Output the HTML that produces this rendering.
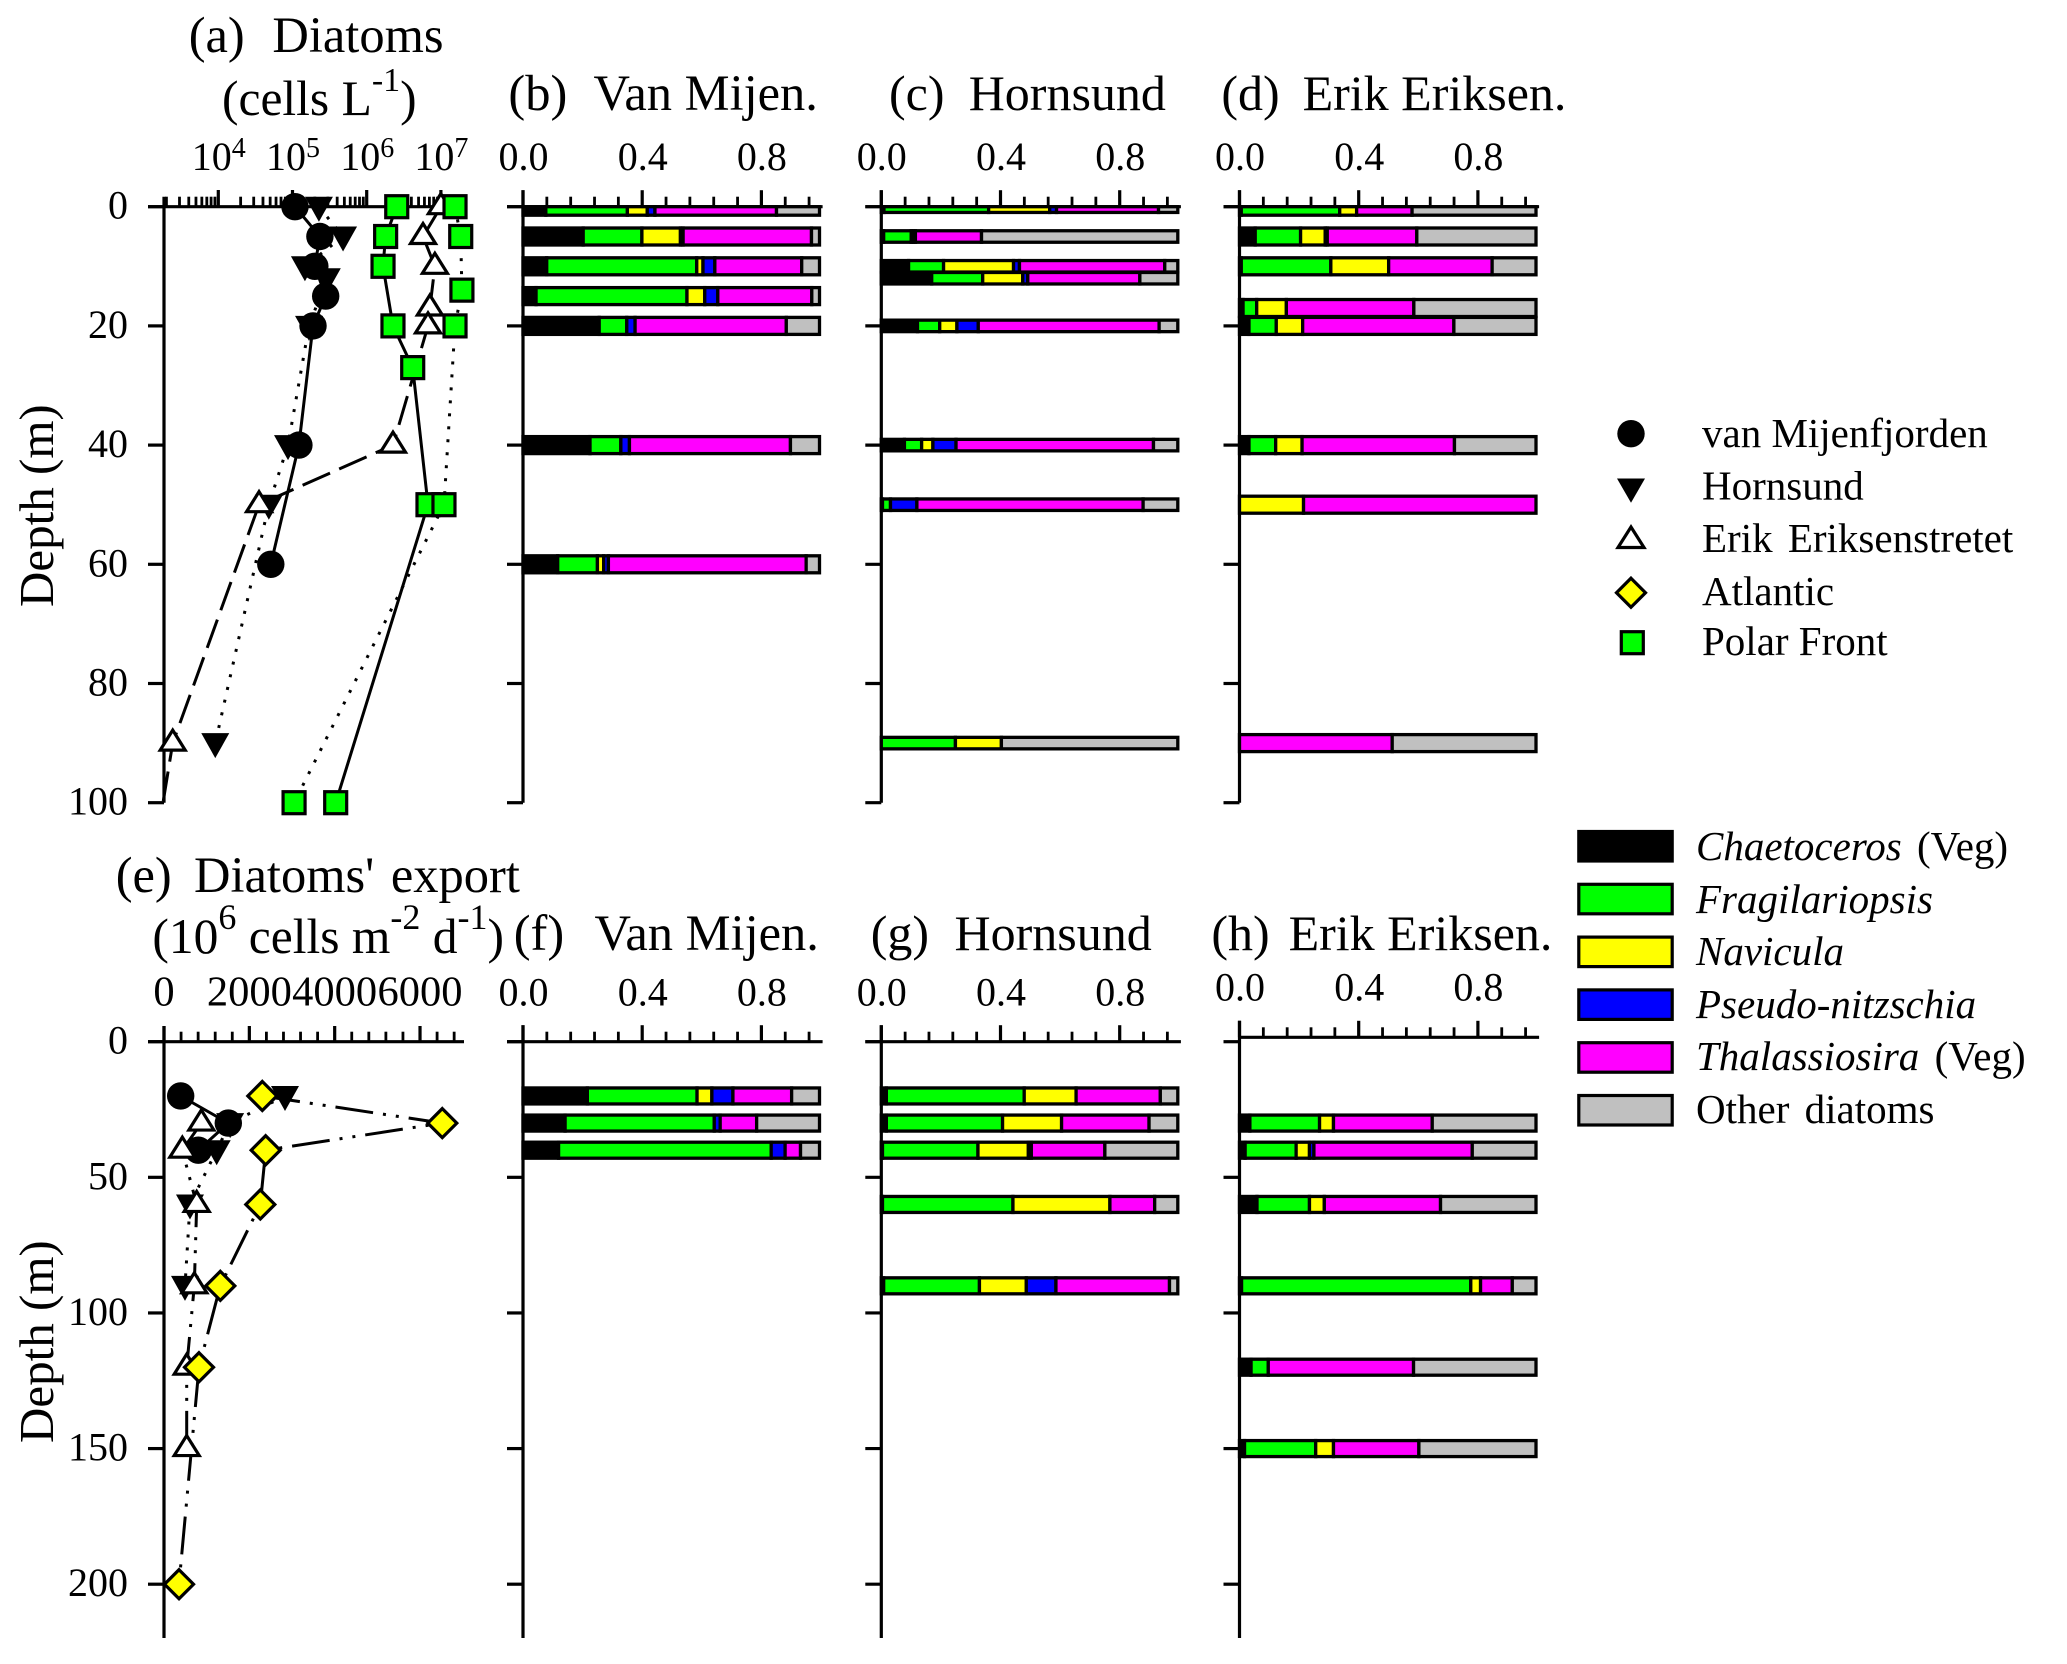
<!DOCTYPE html>
<html lang="en">
<head>
<meta charset="utf-8">
<title>Diatom depth profiles and export</title>
<style>
  html, body { margin: 0; padding: 0; background: #fff; }
  svg { display: block; }
  text { font-family: "Liberation Serif", serif; fill: #000; white-space: pre; }
  .title { font-size: 49.5px; }
  .title-l { font-size: 50.5px; }
  .title-m { font-size: 50px; }
  .axis-title { font-size: 49px; }
  .tick { font-size: 40px; }
  .tick-wide { font-size: 42.5px; }
  .legend { font-size: 41px; word-spacing: 5px; }
  .legend-tight { font-size: 41px; }
</style>
</head>
<body>
<svg id="chart" xmlns="http://www.w3.org/2000/svg" width="2067" height="1664" viewBox="0 0 2067 1664">
  <rect width="2067" height="1664" fill="#fff"/>

  <text class="title-l" y="52"><tspan x="188.7">(a)</tspan><tspan x="272.4">Diatoms</tspan></text>
  <text class="title" x="222" y="115">(cells L<tspan dy="-24" font-size="34">-1</tspan><tspan dy="24">)</tspan></text>
  <text class="title-l" y="110"><tspan x="508.4">(b)</tspan><tspan x="593.5">Van Mijen.</tspan></text>
  <text class="title-m" y="110"><tspan x="889">(c)</tspan><tspan x="968.7">Hornsund</tspan></text>
  <text class="title-m" y="110"><tspan x="1221.4">(d)</tspan><tspan x="1302.6">Erik Eriksen.</tspan></text>
  <text class="title-l" y="892"><tspan x="115.7">(e)</tspan><tspan x="194" word-spacing="4">Diatoms' export</tspan></text>
  <text class="title" x="152.4" y="953">(10<tspan dy="-24" font-size="36">6</tspan><tspan dy="24"> cells m</tspan><tspan dy="-24" font-size="36">-2</tspan><tspan dy="24"> d</tspan><tspan dy="-24" font-size="36">-1</tspan><tspan dy="24">)</tspan></text>
  <text class="title-l" y="950"><tspan x="513.7">(f)</tspan><tspan x="594.5">Van Mijen.</tspan></text>
  <text class="title-m" y="950"><tspan x="870.7">(g)</tspan><tspan x="954.5">Hornsund</tspan></text>
  <text class="title-m" y="950"><tspan x="1211.4">(h)</tspan><tspan x="1288.6">Erik Eriksen.</tspan></text>

  <text class="axis-title" transform="translate(53,607) rotate(-90)" x="0" y="0">Depth (m)</text>
  <text class="axis-title" transform="translate(53,1443) rotate(-90)" x="0" y="0">Depth (m)</text>

  <g>
    <circle cx="1631" cy="433.7" r="13.7" fill="#000"/>
    <path d="M1617,478.5 H1645 L1631,502.7 Z" fill="#000"/>
    <path d="M1631,527 L1644,547.5 H1618 Z" fill="#fff" stroke="#000" stroke-width="3.2"/>
    <path d="M1631,578.2 L1645.5,592.7 L1631,607.2 L1616.5,592.7 Z" fill="#ff0" stroke="#000" stroke-width="3.2"/>
    <rect x="1621.3" y="631.7" width="22" height="22" fill="#0f0" stroke="#000" stroke-width="3.2"/>
    <text class="legend-tight" x="1702" y="447">van Mijenfjorden</text>
    <text class="legend" x="1702" y="499.5">Hornsund</text>
    <text class="legend" x="1702" y="552">Erik Eriksenstretet</text>
    <text class="legend" x="1702" y="605">Atlantic</text>
    <text class="legend-tight" x="1702" y="655">Polar Front</text>
  </g>

  <g>
    <rect x="1578.8" y="831.5" width="93.4" height="29.5" fill="#000" stroke="#000" stroke-width="3.2"/>
    <rect x="1578.8" y="884.3" width="93.4" height="29.5" fill="#0f0" stroke="#000" stroke-width="3.2"/>
    <rect x="1578.8" y="937.1" width="93.4" height="29.5" fill="#ff0" stroke="#000" stroke-width="3.2"/>
    <rect x="1578.8" y="989.9" width="93.4" height="29.5" fill="#00f" stroke="#000" stroke-width="3.2"/>
    <rect x="1578.8" y="1042.7" width="93.4" height="29.5" fill="#f0f" stroke="#000" stroke-width="3.2"/>
    <rect x="1578.8" y="1095.5" width="93.4" height="29.5" fill="#c0c0c0" stroke="#000" stroke-width="3.2"/>
    <text class="legend" x="1696" y="860"><tspan font-style="italic">Chaetoceros</tspan> (Veg)</text>
    <text class="legend" x="1696" y="913"><tspan font-style="italic">Fragilariopsis</tspan></text>
    <text class="legend" x="1696" y="965"><tspan font-style="italic">Navicula</tspan></text>
    <text class="legend" x="1696" y="1018"><tspan font-style="italic">Pseudo-nitzschia</tspan></text>
    <text class="legend" x="1696" y="1070"><tspan font-style="italic">Thalassiosira</tspan> (Veg)</text>
    <text class="legend" x="1696" y="1123">Other diatoms</text>
  </g>
</svg>

<script>
// ---------- Panel (a): diatom abundance, cells per litre ----------
const cellsVanMijenDepths = [0, 5, 10, 15, 20, 40, 60];
const cellsVanMijenValues = [108000, 234000, 200000, 280000, 189000, 122000, 51000];
const cellsHornsundDepths = [0, 5, 10, 12, 20, 40, 50, 90];
const cellsHornsundValues = [227000, 480000, 147000, 290000, 167000, 87000, 48000, 9100];
const cellsErikDepths = [0, 5, 10, 17, 20, 40, 50, 90, 100];
const cellsErikValues = [10000000, 5740000, 8300000, 7100000, 6700000, 2260000, 35400, 2430, 1800];
const cellsPolarADepths = [0, 5, 10, 20, 27, 50, 100];
const cellsPolarAValues = [2540000, 1800000, 1660000, 2260000, 4170000, 6700000, 382000];
const cellsPolarBDepths = [0, 5, 14, 20, 50, 100];
const cellsPolarBValues = [15500000, 18500000, 19200000, 15500000, 11000000, 105000];
const logTickExponents = [4, 5, 6, 7];
const upperDepthTicks = [0, 20, 40, 60, 80, 100];

// ---------- Panel (e): diatom export ----------
const exportVanMijenDepths = [20, 30, 40];
const exportVanMijenValues = [391, 1507, 804];
const exportHornsundDepths = [20, 30, 40, 60, 90];
const exportHornsundValues = [2836, 1550, 1235, 609, 492];
const exportErikDepths = [30, 40, 60, 90, 120, 150];
const exportErikValues = [875, 430, 766, 711, 532, 532];
const exportAtlanticDepths = [20, 30, 40, 60, 90, 120, 200];
const exportAtlanticValues = [2304, 6522, 2383, 2257, 1320, 820, 352];
const exportTicks = ["0", "2000", "4000", "6000"];
const lowerDepthTicks = [0, 50, 100, 150, 200];

// ---------- Stacked fractions: Chaetoceros, Fragilariopsis, Navicula, Pseudo-nitzschia, Thalassiosira, Other ----------
const taxa = ["chaetoceros", "fragilariopsis", "navicula", "pseudo-nitzschia", "thalassiosira", "other-diatoms"];
const fractionTicks = ["0.0", "0.4", "0.8"];

const panelBDepths = [0, 5, 10, 15, 20, 40, 60];
const panelBFractions = [
  [.077, .275, .067, .026, .41, .145],
  [.203, .198, .13, .009, .433, .027],
  [.08, .506, .021, .04, .293, .06],
  [.044, .509, .06, .044, .317, .026],
  [.257, .093, 0, .028, .51, .112],
  [.226, .104, 0, .029, .543, .098],
  [.117, .134, .021, .016, .667, .045]
];
const panelCDepths = [0, 5, 10, 12, 20, 40, 50, 90];
const panelCFractions = [
  [.009, .353, .206, .023, .344, .065],
  [.008, .093, .007, .007, .223, .662],
  [.092, .118, .236, .02, .49, .044],
  [.17, .172, .135, .017, .378, .128],
  [.122, .075, .058, .072, .61, .063],
  [.078, .058, .038, .078, .666, .082],
  [.004, .027, 0, .089, .763, .117],
  [0, .25, .155, 0, 0, .595]
];
const panelDDepths = [0, 5, 10, 17, 20, 40, 50, 90];
const panelDFractions = [
  [.006, .332, .057, 0, .187, .418],
  [.053, .153, .083, .007, .302, .402],
  [.006, .302, .195, 0, .349, .148],
  [.012, .046, .1, 0, .43, .412],
  [.032, .092, .089, 0, .51, .277],
  [.032, .09, .089, 0, .514, .275],
  [0, 0, .216, 0, .784, 0],
  [0, 0, 0, 0, .515, .485]
];
const panelFDepths = [20, 30, 40];
const panelFFractions = [
  [.217, .37, .05, .071, .198, .094],
  [.142, .503, 0, .02, .123, .212],
  [.12, .717, 0, .047, .052, .064]
];
const panelGDepths = [20, 30, 40, 60, 90];
const panelGFractions = [
  [.017, .465, .175, 0, .284, .059],
  [.017, .392, .199, 0, .295, .097],
  [.004, .322, .17, .01, .248, .246],
  [.004, .44, .327, 0, .151, .078],
  [.008, .323, .158, .1, .383, .028]
];
const panelHDepths = [30, 40, 60, 90, 120, 150];
const panelHFractions = [
  [.035, .235, .047, 0, .333, .35],
  [.019, .172, .045, .015, .534, .215],
  [.059, .177, .05, 0, .392, .322],
  [.007, .773, .033, 0, .107, .08],
  [.039, .058, 0, 0, .49, .413],
  [.017, .24, .06, 0, .288, .395]
];

// ---------- Axis functions ----------
const svg = document.getElementById('chart');
const NS = 'http://www.w3.org/2000/svg';
const upperTop = 206.7, upperBottom = 802.7, lowerTop = 1041.7, lowerBottom = 1638;
const yUpper = d => upperTop + d * 5.96;
const yLower = d => lowerTop + d * 2.7125;
const logMin = 3.268;
const xLog = v => 218.3 + (Math.log10(v) - 4) * 74.2;
const xExport = v => 164 + v * 0.04267;
const taxonFills = ['#000', '#0f0', '#ff0', '#00f', '#f0f', '#c0c0c0'];

function make(tag, attrs, parent) {
  const el = document.createElementNS(NS, tag);
  for (const k in attrs) el.setAttribute(k, attrs[k]);
  (parent || svg).appendChild(el);
  return el;
}
function tickLine(x1, y1, x2, y2, w) {
  const el = make('line', { x1, y1, x2, y2, stroke: '#000', 'stroke-width': w });
  
  
  return el;
}
function axisLine(x1, y1, x2, y2) {
  const el = make('line', { x1, y1, x2, y2, stroke: '#000', 'stroke-width': 3.2 });
  
  
  return el;
}
function tickText(x, y, s, anchor, cls) {
  const el = make('text', { x, y, class: cls || 'tick', 'text-anchor': anchor });
  
  
  el.textContent = s;
  return el;
}
function depthAxis(x0, top, bottom, ticks, yFn) {
  axisLine(x0, top, x0, bottom);
  ticks.forEach(d => tickLine(x0 - 16, yFn(d), x0, yFn(d), 3.2));
}
function depthLabels(ticks, yFn) {
  ticks.forEach(d => tickText(128, yFn(d) + 12, String(d), 'end'));
}

function drawMarker(kind, x, y) {
  let el;
  if (kind === 'circle') {
    el = make('circle', { cx: x, cy: y, r: 13.7, fill: '#000' });
  } else if (kind === 'down') {
    el = make('path', { d: `M${x - 14},${y - 10} H${x + 14} L${x},${y + 15} Z`, fill: '#000' });
  } else if (kind === 'up') {
    el = make('path', { d: `M${x},${y - 13} L${x + 12.5},${y + 7} H${x - 12.5} Z`, fill: '#fff', stroke: '#000', 'stroke-width': 3.2 });
  } else if (kind === 'diamond') {
    el = make('path', { d: `M${x},${y - 14.5} L${x + 14.5},${y} L${x},${y + 14.5} L${x - 14.5},${y} Z`, fill: '#ff0', stroke: '#000', 'stroke-width': 3.2 });
  } else {
    el = make('rect', { x: x - 11, y: y - 11, width: 22, height: 22, fill: '#0f0', stroke: '#000', 'stroke-width': 3.2 });
  }
  
  
}
function drawLine(depths, values, xFn, yFn, dash) {
  const pts = depths.map((d, i) => xFn(values[i]).toFixed(1) + ',' + yFn(d).toFixed(1)).join(' ');
  const el = make('polyline', { points: pts, fill: 'none', stroke: '#000', 'stroke-width': 3 });
  if (dash) el.setAttribute('stroke-dasharray', dash);
  
  
}
function drawMarkers(depths, values, xFn, yFn, kind, minValue) {
  depths.forEach((d, i) => {
    if (values[i] >= minValue) drawMarker(kind, xFn(values[i]), yFn(d));
  });
}

// ---------- Panel (a) axes ----------
const logAxisMinX = 164;
for (let k = 3; k <= 7; k++) {
  for (let m = 2; m <= 9; m++) {
    const v = m * Math.pow(10, k);
    if (Math.log10(v) > logMin && xLog(v) < 466) tickLine(xLog(v), upperTop, xLog(v), 196.7, 2.8);
  }
}
logTickExponents.forEach(e => {
  const v = Math.pow(10, e);
  tickLine(xLog(v), upperTop, xLog(v), 190, 3.2);
  const t = tickText(xLog(v) + 0.5, 170, '', 'middle');
  const a = make('tspan', {}, t);
  a.textContent = '10';
  const b = make('tspan', { dy: -13, 'font-size': 28 }, t);
  b.textContent = String(e);
});
axisLine(148, upperTop, 467, upperTop);
depthAxis(logAxisMinX, 196.7, upperBottom, upperDepthTicks, yUpper);
depthLabels(upperDepthTicks, yUpper);

// ---------- Panel (a) series ----------
const longDash = '30 10', dots = '3 10', dashDots = '38 10 3 10 3 10';
drawLine(cellsHornsundDepths, cellsHornsundValues, xLog, yUpper, dots);
drawLine(cellsVanMijenDepths, cellsVanMijenValues, xLog, yUpper, '');
drawLine(cellsErikDepths, cellsErikValues, xLog, yUpper, longDash);
drawLine(cellsPolarADepths, cellsPolarAValues, xLog, yUpper, '');
drawLine(cellsPolarBDepths, cellsPolarBValues, xLog, yUpper, dots);
const axisMinValue = Math.pow(10, logMin);
drawMarkers(cellsHornsundDepths, cellsHornsundValues, xLog, yUpper, 'down', axisMinValue);
drawMarkers(cellsVanMijenDepths, cellsVanMijenValues, xLog, yUpper, 'circle', axisMinValue);
drawMarkers(cellsErikDepths, cellsErikValues, xLog, yUpper, 'up', axisMinValue);
drawMarkers(cellsPolarADepths, cellsPolarAValues, xLog, yUpper, 'square', axisMinValue);
drawMarkers(cellsPolarBDepths, cellsPolarBValues, xLog, yUpper, 'square', axisMinValue);

// ---------- Panel (e) axes and series ----------
for (let v = 0; v <= 6800; v += 400) {
  if (v % 2000 === 0) tickLine(xExport(v), lowerTop, xExport(v), 1026, 3.2);
  else tickLine(xExport(v), lowerTop, xExport(v), 1031.7, 2.8);
}
exportTicks.forEach(s => tickText(xExport(Number(s)), 1005.7, s, 'middle', 'tick-wide'));
axisLine(148, lowerTop, 464, lowerTop);
depthAxis(164, 1026, lowerBottom, lowerDepthTicks, yLower);
depthLabels(lowerDepthTicks, yLower);

drawLine(exportVanMijenDepths, exportVanMijenValues, xExport, yLower, '');
drawLine(exportHornsundDepths, exportHornsundValues, xExport, yLower, dots);
drawLine(exportErikDepths, exportErikValues, xExport, yLower, dashDots);
drawLine(exportAtlanticDepths, exportAtlanticValues, xExport, yLower, dashDots);
drawMarkers(exportVanMijenDepths, exportVanMijenValues, xExport, yLower, 'circle', 0);
drawMarkers(exportHornsundDepths, exportHornsundValues, xExport, yLower, 'down', 0);
drawMarkers(exportErikDepths, exportErikValues, xExport, yLower, 'up', 0);
drawMarkers(exportAtlanticDepths, exportAtlanticValues, xExport, yLower, 'diamond', 0);

// ---------- Stacked bar panels ----------
const barScale = 298;
function barPanel(opt) {
  const xAxis = v => opt.x0 + v * barScale;
  const xBar = v => opt.x0 + v * (barScale - 1.5);
  for (let i = 0; i <= 12; i++) {
    const v = i * 0.08;
    if (i % 5 === 0) tickLine(xAxis(v), opt.axisY, xAxis(v), opt.axisY - 16.5, 3.2);
    else tickLine(xAxis(v), opt.axisY, xAxis(v), opt.axisY - 10, 2.8);
  }
  fractionTicks.forEach(s => tickText(xAxis(Number(s)) + 0.5, opt.labelY, s, 'middle'));
  axisLine(opt.x0 - (opt.axisY === opt.y0 ? 16 : 0), opt.axisY, opt.x0 + 299.6, opt.axisY);
  depthAxis(opt.x0, opt.axisY - 16.5, opt.bottom, opt.ticks, opt.yFn);
  opt.depths.forEach((d, r) => {
    const row = opt.fractions[r];
    const yc = opt.yFn(d);
    const top = Math.max(yc - opt.barH / 2, opt.y0);
    const bot = yc + opt.barH / 2;
    let cum = 0;
    row.forEach((f, s) => {
      if (f > 0) {
        const el = make('rect', {
          x: xBar(cum), y: top, width: xBar(cum + f) - xBar(cum), height: bot - top,
          fill: taxonFills[s], stroke: '#000', 'stroke-width': 3.3
        });
        
        
      }
      cum += f;
    });
  });
}
const upperOpts = { labelY: 170, y0: upperTop, axisY: upperTop, bottom: upperBottom, ticks: upperDepthTicks, yFn: yUpper };
const lowerOpts = { labelY: 1005.7, y0: lowerTop, axisY: lowerTop, bottom: lowerBottom, ticks: lowerDepthTicks, yFn: yLower };
barPanel(Object.assign({}, upperOpts, { x0: 523, barH: 17, depths: panelBDepths, fractions: panelBFractions }));
barPanel(Object.assign({}, upperOpts, { x0: 881.3, barH: 11.5, depths: panelCDepths, fractions: panelCFractions }));
barPanel(Object.assign({}, upperOpts, { x0: 1239.5, barH: 17, depths: panelDDepths, fractions: panelDFractions }));
barPanel(Object.assign({}, lowerOpts, { x0: 523, barH: 16, depths: panelFDepths, fractions: panelFFractions }));
barPanel(Object.assign({}, lowerOpts, { x0: 881.3, barH: 16, depths: panelGDepths, fractions: panelGFractions }));
barPanel(Object.assign({}, lowerOpts, { x0: 1239.5, barH: 16, labelY: 1000.7, axisY: 1037.3, depths: panelHDepths, fractions: panelHFractions }));
</script>
</body>
</html>
